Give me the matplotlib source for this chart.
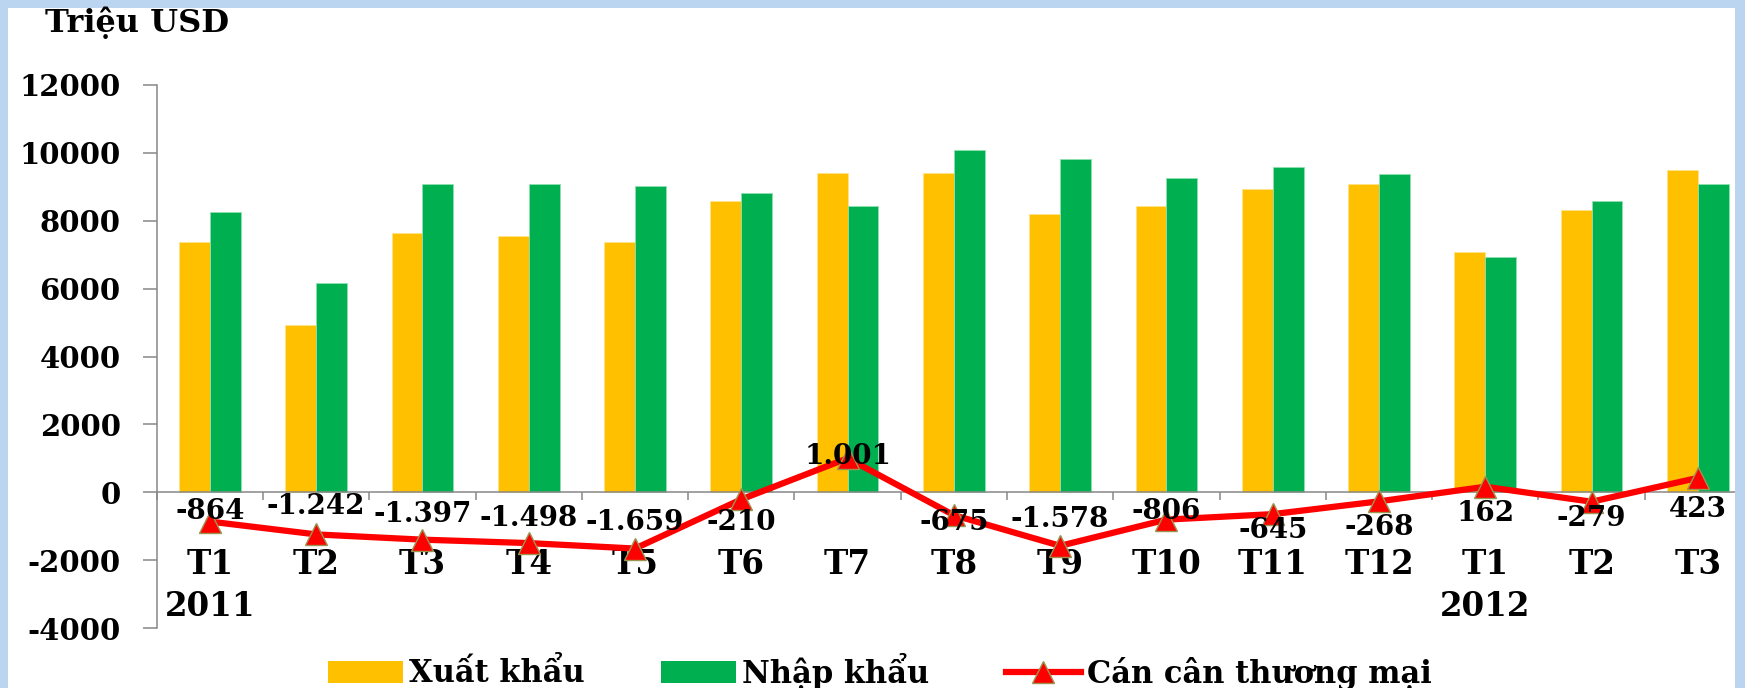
import matplotlib
matplotlib.use("Agg")
import matplotlib.pyplot as plt
from matplotlib.patches import Rectangle
from matplotlib.lines import Line2D
from matplotlib.patches import Patch
import numpy as np

plt.rcParams['font.family'] = ['DejaVu Serif']
plt.rcParams['font.weight'] = 'bold'

categories = ["T1", "T2", "T3", "T4", "T5", "T6", "T7", "T8", "T9",
              "T10", "T11", "T12", "T1", "T2", "T3"]
years = ["2011", "", "", "", "", "", "", "", "", "", "", "", "2012", "", ""]
xuat_khau = [7370, 4940, 7650, 7560, 7370, 8570, 9400, 9400, 8210,
             8430, 8940, 9080, 7090, 8310, 9490]
nhap_khau = [8250, 6180, 9070, 9080, 9030, 8810, 8430, 10090, 9810,
             9260, 9580, 9370, 6920, 8570, 9080]
can_can = [-864, -1242, -1397, -1498, -1659, -210, 1001, -675, -1578,
           -806, -645, -268, 162, -279, 423]
can_can_labels = ["-864", "-1.242", "-1.397", "-1.498", "-1.659", "-210",
                  "1.001", "-675", "-1.578", "-806", "-645", "-268",
                  "162", "-279", "423"]
# vertical offsets of data labels (points)
label_dy = [7, 20, 18, 18, 19, -17, 1, -5, 19, 6, -12, -19, -19, -12, -23]
yticks = [-4000, -2000, 0, 2000, 4000, 6000, 8000, 10000, 12000]

W, H = 1745, 688
fig = plt.figure(figsize=(W / 100, H / 100), dpi=100)
fig.patch.set_facecolor('#BBD5F0')
# white panel
fig.patches.append(Rectangle((8 / W, 0), (1735 - 8) / W, (H - 8) / H,
                             transform=fig.transFigure, facecolor='white',
                             edgecolor='none', zorder=-5))
# right blue strip drawn above the plot
fig.patches.append(Rectangle((1735 / W, 0), 1 - 1735 / W, 1,
                             transform=fig.transFigure, facecolor='#BBD5F0',
                             edgecolor='none', zorder=20))

ax = fig.add_axes([156.7 / W, (H - 628) / H, (1751 - 156.7) / W, (628 - 85) / H])
ax.set_facecolor('none')

x = np.arange(len(categories))
w = 0.29
ax.bar(x - w / 2, xuat_khau, w, color='#FFC000', edgecolor='#FFE38A', linewidth=0.6, zorder=2)
ax.bar(x + w / 2, nhap_khau, w, color='#00B050', edgecolor='#8FE0B0', linewidth=0.6, zorder=2)
ax.plot(x, can_can, color='#FF0000', lw=4.5, marker='^', markersize=16,
        markerfacecolor='#FF0000', markeredgecolor='#9A9550', markeredgewidth=1.0,
        zorder=4, solid_joinstyle='miter')

for xi, v, s, dy in zip(x, can_can, can_can_labels, label_dy):
    ax.annotate(s, (xi, v), xytext=(0, dy), textcoords='offset points',
                ha='center', va='center', fontsize=20, fontweight='bold',
                color='black', zorder=6)

ax.set_xlim(-0.5, len(categories) - 0.5)
ax.set_ylim(-4000, 12000)
ax.set_yticks(yticks)
ax.set_yticklabels([str(t) for t in yticks])
ax.tick_params(axis='y', direction='out', length=10, width=1.1, color='#888888',
               pad=16, labelsize=21)

ax.set_xticks(x)
ax.set_xticklabels(categories)
ax.set_xticks(np.arange(-0.5, len(categories)), minor=True)
ax.tick_params(axis='x', which='major', length=0, pad=40, labelsize=23.5)
ax.tick_params(axis='x', which='minor', direction='out', length=5.5, width=1.1,
               color='#888888')

# year line of the category labels
for xi, yr in zip(x, years):
    if yr:
        ax.annotate(yr, (xi, 0), xytext=(0, -82), textcoords='offset points',
                    ha='center', va='center', fontsize=23.5, fontweight='bold',
                    annotation_clip=False)

for s in ['top', 'right']:
    ax.spines[s].set_visible(False)
ax.spines['bottom'].set_position(('data', 0))
ax.spines['bottom'].set_color('#888888')
ax.spines['bottom'].set_linewidth(1.1)
ax.spines['left'].set_color('#888888')
ax.spines['left'].set_linewidth(1.1)
ax.spines['bottom'].set_zorder(3)

fig.text(45 / W, 1 - 23 / H, "Triệu USD", ha='left', va='center',
         fontsize=23, fontweight='bold')

handles = [Patch(facecolor='#FFC000', edgecolor='none'),
           Patch(facecolor='#00B050', edgecolor='none'),
           Line2D([0], [0], color='#FF0000', lw=4.5, marker='^', markersize=16,
                  markerfacecolor='#FF0000', markeredgecolor='#9A9550')]
leg = fig.legend(handles, ["Xuất khẩu", "Nhập khẩu", "Cán cân thương mại"],
                 loc='center', bbox_to_anchor=(880 / W, 17 / H), ncol=3,
                 frameon=False, prop={'size': 22, 'weight': 'bold'},
                 handlelength=2.45, handleheight=0.75, handletextpad=0.2,
                 columnspacing=2.5, numpoints=1, borderpad=0, borderaxespad=0)

fig.savefig('out.png', dpi=100, facecolor=fig.get_facecolor())
